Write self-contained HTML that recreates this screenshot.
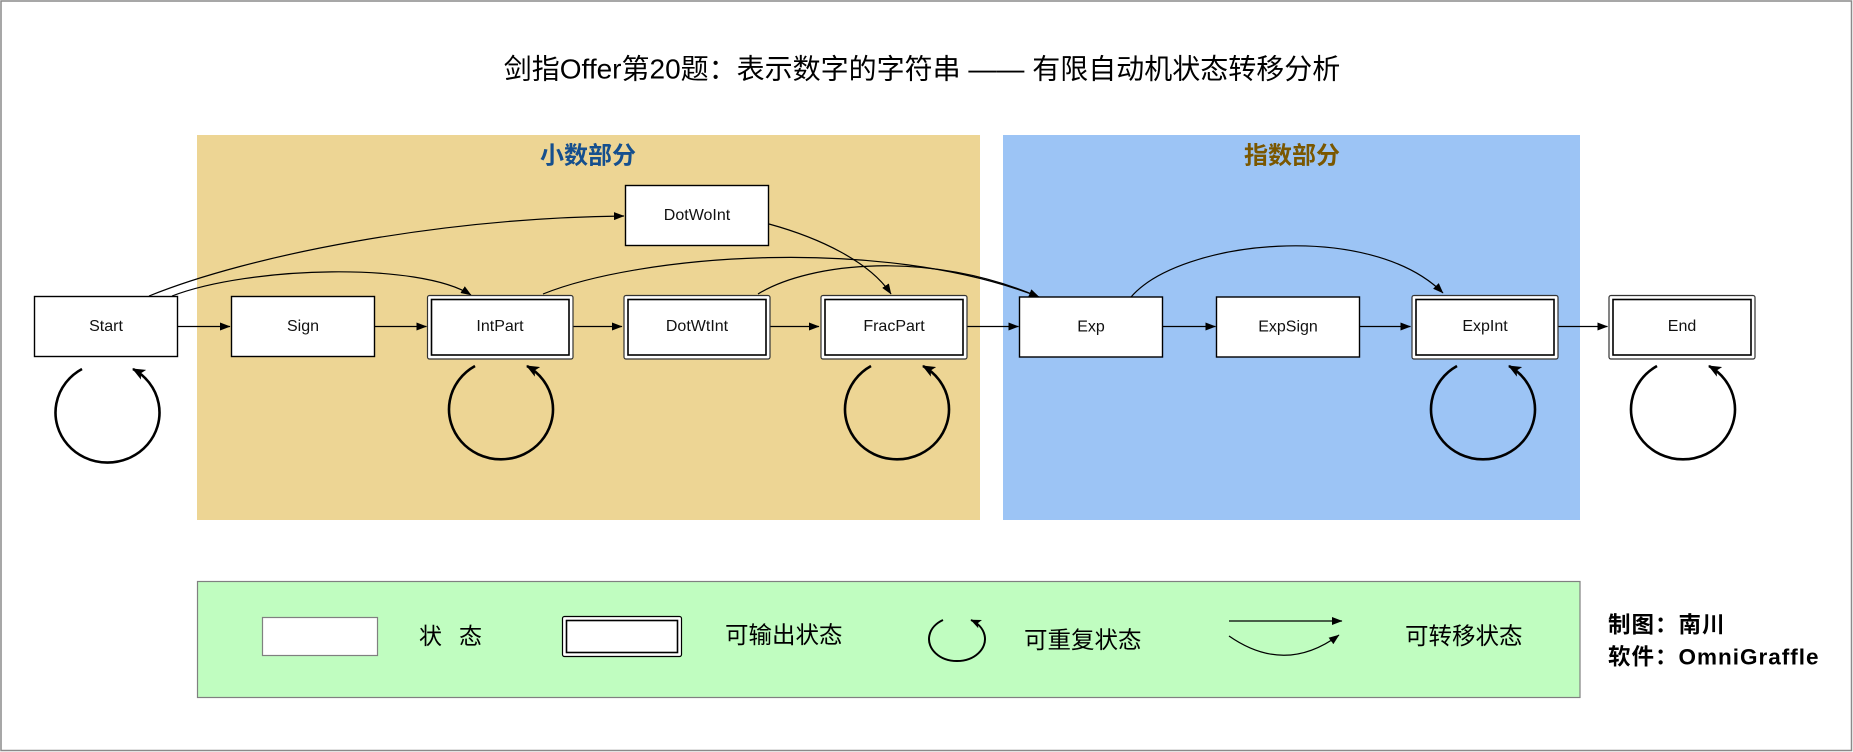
<!DOCTYPE html>
<html>
<head>
<meta charset="utf-8">
<style>
  html,body{margin:0;padding:0;background:#fff;}
  body{width:1853px;height:752px;overflow:hidden;}
  svg{display:block;}
  .n{font-family:"Liberation Sans","Noto Sans CJK SC",sans-serif;font-size:16px;fill:#111;}
  .cj{font-family:"Liberation Sans","Noto Sans CJK SC",sans-serif;}
</style>
</head>
<body>
<svg width="1853" height="752" viewBox="0 0 1853 752" xmlns="http://www.w3.org/2000/svg">
  <defs>
    <marker id="a" markerUnits="userSpaceOnUse" markerWidth="11" markerHeight="8" refX="10" refY="4" orient="auto">
      <path d="M0,0 L10.5,4 L0,8 Z" fill="#000"/>
    </marker>
    <marker id="L" markerUnits="userSpaceOnUse" markerWidth="14" markerHeight="11" refX="12" refY="5.5" orient="auto">
      <path d="M0,0 L13,5.5 L0,11 L3,5.5 Z" fill="#000"/>
    </marker>
    <marker id="Ls" markerUnits="userSpaceOnUse" markerWidth="11" markerHeight="9" refX="10" refY="4.5" orient="auto">
      <path d="M0,0 L10.5,4.5 L0,9 L2.5,4.5 Z" fill="#000"/>
    </marker>
  </defs>

  <!-- page background & border -->
  <rect x="0" y="0" width="1853" height="752" fill="#fff"/>
  <rect x="1" y="1" width="1850.5" height="749.5" fill="none" stroke="#8a8a8a" stroke-width="1.5"/>

  <!-- title -->
  <text class="cj" x="922" y="69" font-size="28" text-anchor="middle" dominant-baseline="central" fill="#000">剑指Offer第20题：表示数字的字符串 —— 有限自动机状态转移分析</text>

  <!-- regions -->
  <rect x="197" y="135" width="783" height="385" fill="#EDD594"/>
  <rect x="1003" y="135" width="577" height="385" fill="#9CC4F5"/>
  <text class="cj" x="588" y="156" font-size="24" font-weight="bold" text-anchor="middle" dominant-baseline="central" fill="#154F8E">小数部分</text>
  <text class="cj" x="1292" y="156" font-size="24" font-weight="bold" text-anchor="middle" dominant-baseline="central" fill="#7A5700">指数部分</text>

  <!-- curved connectors -->
  <g fill="none" stroke="#000" stroke-width="1.2">
    <path d="M149,296 C250,255 440,218 624,216" marker-end="url(#a)"/>
    <path d="M172,296 C250,266 420,262 471,295" marker-end="url(#a)"/>
    <path d="M543,294 C640,255 880,235 1039,297" marker-end="url(#a)"/>
    <path d="M758,294 C810,262 930,250 1039,297" marker-end="url(#a)"/>
    <path d="M769,224 C820,238 870,262 891,294" marker-end="url(#a)"/>
    <path d="M1131,297 C1180,240 1370,220 1443,293" marker-end="url(#a)"/>
  </g>

  <!-- straight connectors -->
  <g fill="none" stroke="#000" stroke-width="1.2">
    <line x1="177" y1="326.5" x2="230" y2="326.5" marker-end="url(#a)"/>
    <line x1="375" y1="326.5" x2="426.5" y2="326.5" marker-end="url(#a)"/>
    <line x1="573" y1="326.5" x2="622" y2="326.5" marker-end="url(#a)"/>
    <line x1="770" y1="326.5" x2="819" y2="326.5" marker-end="url(#a)"/>
    <line x1="967" y1="326.5" x2="1018.5" y2="326.5" marker-end="url(#a)"/>
    <line x1="1162" y1="326.5" x2="1215.5" y2="326.5" marker-end="url(#a)"/>
    <line x1="1360" y1="326.5" x2="1410.5" y2="326.5" marker-end="url(#a)"/>
    <line x1="1558" y1="326.5" x2="1607.5" y2="326.5" marker-end="url(#a)"/>
  </g>

  <!-- single boxes -->
  <g fill="#fff" stroke="#000" stroke-width="1.4">
    <rect x="34.5" y="296.5" width="143" height="60"/>
    <rect x="231.5" y="296.5" width="143" height="60"/>
    <rect x="625.5" y="185.5" width="143" height="60"/>
    <rect x="1019.5" y="297" width="143" height="60"/>
    <rect x="1216.5" y="297" width="143" height="60"/>
  </g>

  <!-- double boxes -->
  <g>
    <rect x="427.5" y="295.5" width="145.5" height="63.5" rx="2" fill="#fff" stroke="#333" stroke-width="1.2"/>
    <rect x="431.5" y="299.5" width="137.5" height="55.5" fill="#fff" stroke="#000" stroke-width="1.6"/>
    <rect x="624" y="295.5" width="146" height="63.5" rx="2" fill="#fff" stroke="#333" stroke-width="1.2"/>
    <rect x="628" y="299.5" width="138" height="55.5" fill="#fff" stroke="#000" stroke-width="1.6"/>
    <rect x="821" y="295.5" width="146" height="63.5" rx="2" fill="#fff" stroke="#333" stroke-width="1.2"/>
    <rect x="825" y="299.5" width="138" height="55.5" fill="#fff" stroke="#000" stroke-width="1.6"/>
    <rect x="1412" y="295.5" width="146" height="63.5" rx="2" fill="#fff" stroke="#333" stroke-width="1.2"/>
    <rect x="1416" y="299.5" width="138" height="55.5" fill="#fff" stroke="#000" stroke-width="1.6"/>
    <rect x="1609" y="295.5" width="146" height="63.5" rx="2" fill="#fff" stroke="#333" stroke-width="1.2"/>
    <rect x="1613" y="299.5" width="138" height="55.5" fill="#fff" stroke="#000" stroke-width="1.6"/>
  </g>

  <!-- node labels -->
  <g class="n" text-anchor="middle" dominant-baseline="central">
    <text x="106" y="326.5">Start</text>
    <text x="303" y="326.5">Sign</text>
    <text x="500" y="326.5">IntPart</text>
    <text x="697" y="215.5">DotWoInt</text>
    <text x="697" y="326.5">DotWtInt</text>
    <text x="894" y="326.5">FracPart</text>
    <text x="1091" y="327">Exp</text>
    <text x="1288" y="327">ExpSign</text>
    <text x="1485" y="326.5">ExpInt</text>
    <text x="1682" y="326.5">End</text>
  </g>

  <!-- self loops -->
  <g fill="none" stroke="#000" stroke-width="2.6">
    <path d="M82,369 A52 50 0 1 0 133,369" marker-end="url(#L)"/>
    <path d="M475,366 A52 50 0 1 0 527,366" marker-end="url(#L)"/>
    <path d="M871,366 A52 50 0 1 0 923,366" marker-end="url(#L)"/>
    <path d="M1457,366 A52 50 0 1 0 1509,366" marker-end="url(#L)"/>
    <path d="M1657,366 A52 50 0 1 0 1709,366" marker-end="url(#L)"/>
  </g>

  <!-- legend -->
  <rect x="197.5" y="581.5" width="1382.5" height="116" fill="#C0FDC0" stroke="#808080" stroke-width="1.2"/>
  <rect x="262.5" y="617.5" width="115" height="38" fill="#fff" stroke="#808080" stroke-width="1.2"/>
  <text class="cj" x="419" y="636" font-size="23" dominant-baseline="central" fill="#000">状</text>
  <text class="cj" x="459" y="636" font-size="23" dominant-baseline="central" fill="#000">态</text>

  <rect x="562.5" y="616.5" width="119" height="40" rx="2" fill="#fff" stroke="#000" stroke-width="1.2"/>
  <rect x="566.5" y="620.5" width="111" height="32" fill="#fff" stroke="#000" stroke-width="1.6"/>
  <text class="cj" x="725" y="635" font-size="23.5" dominant-baseline="central" fill="#000">可输出状态</text>

  <path d="M943,620 A28 22 0 1 0 971,620" fill="none" stroke="#000" stroke-width="2" marker-end="url(#Ls)"/>
  <text class="cj" x="1024" y="640" font-size="23.5" dominant-baseline="central" fill="#000">可重复状态</text>

  <line x1="1229" y1="621" x2="1342" y2="621" stroke="#000" stroke-width="1.2" marker-end="url(#a)"/>
  <path d="M1229,636 Q1285,675 1339,635" fill="none" stroke="#000" stroke-width="1.2" marker-end="url(#a)"/>
  <text class="cj" x="1405" y="636" font-size="23.5" dominant-baseline="central" fill="#000">可转移状态</text>

  <text class="cj" x="1608" y="625" font-size="22.5" font-weight="bold" letter-spacing="1" dominant-baseline="central" fill="#000">制图：南川</text>
  <text class="cj" x="1608" y="657" font-size="22.5" font-weight="bold" letter-spacing="1" dominant-baseline="central" fill="#000">软件：OmniGraffle</text>
</svg>
</body>
</html>
